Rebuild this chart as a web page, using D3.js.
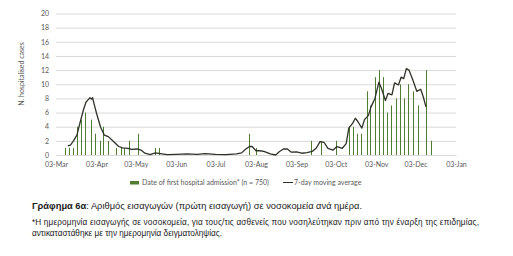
<html>
<head>
<meta charset="utf8">
<title>hospital admissions</title>
<style>
body { margin:0; background-color:white; }
#svg { width:513px; height:256px; }
</style>
<script src="https://d3js.org/d3.v7.min.js"></script>
</head>
<body>
<div id="svg"></div>
<script>

// daily first hospital admissions (bars), only the days that show in the chart
var barDates = ["2020-03-10","2020-03-13","2020-03-16","2020-03-19","2020-03-22","2020-03-25","2020-03-30",
                "2020-04-02","2020-04-06","2020-04-08","2020-04-12","2020-04-18","2020-04-22","2020-04-24","2020-04-28",
                "2020-05-05","2020-05-18","2020-05-21","2020-07-29","2020-08-03","2020-09-14","2020-09-22",
                "2020-10-03","2020-10-13","2020-10-16","2020-10-19","2020-10-22","2020-10-27","2020-10-29",
                "2020-11-02","2020-11-05","2020-11-08","2020-11-11","2020-11-14","2020-11-18","2020-11-21",
                "2020-11-24","2020-11-27","2020-12-01","2020-12-05","2020-12-11","2020-12-15"];
var barValues = [1,1,1,4,5,6,5,
                 3,2,4,2,1,1,1,2,
                 3,1,1,3,1,2,2,
                 2,4,4,3,3,9,7,
                 11,12,11,6,7,8,10,
                 8,10,9,7,12,2];

// 7-day moving average
var maDates = ["2020-03-12","2020-03-14","2020-03-16","2020-03-19","2020-03-21","2020-03-24","2020-03-26",
               "2020-03-28","2020-03-29","2020-03-30","2020-03-31","2020-04-01","2020-04-03","2020-04-06",
               "2020-04-09","2020-04-12","2020-04-16","2020-04-20","2020-04-23","2020-04-27","2020-04-30",
               "2020-05-04","2020-05-07","2020-05-10","2020-05-14","2020-05-18","2020-05-22","2020-05-27",
               "2020-06-03","2020-06-11","2020-06-19","2020-06-25","2020-07-03","2020-07-11","2020-07-19",
               "2020-07-23","2020-07-26","2020-07-29","2020-07-31","2020-08-03","2020-08-06","2020-08-09",
               "2020-08-14","2020-08-18","2020-08-21","2020-08-24","2020-08-27","2020-08-30","2020-09-03",
               "2020-09-07","2020-09-11","2020-09-15","2020-09-18","2020-09-21","2020-09-24","2020-09-27",
               "2020-10-01","2020-10-04","2020-10-08","2020-10-11","2020-10-13","2020-10-16","2020-10-18",
               "2020-10-20","2020-10-23","2020-10-25","2020-10-28","2020-10-30","2020-11-02","2020-11-05",
               "2020-11-07","2020-11-10","2020-11-12","2020-11-15","2020-11-17","2020-11-20","2020-11-22",
               "2020-11-24","2020-11-26","2020-11-28","2020-12-01","2020-12-04","2020-12-07","2020-12-09",
               "2020-12-11"];
var maValues = [1.3,1.4,1.9,2.8,4.3,6.4,7.5,
                7.9,8.1,7.9,8.1,7.3,5.9,4.0,
                2.8,2.6,1.9,1.2,1.0,0.95,0.8,
                0.85,0.7,0.25,0.05,0.3,0.2,0.05,
                0.1,0.15,0.1,0.2,0.1,0.05,0.15,
                0.3,0.8,1.2,1.2,0.6,0.6,0.5,
                0.15,0,0.5,0.85,0.85,0.4,0.45,
                0.25,0.35,0.5,0.95,1.9,1.8,0.95,
                0.7,1.2,0.95,1.6,3.8,4.5,5.2,
                4.7,3.8,5.0,5.6,6.8,8.0,10.3,
                9.4,7.7,8.7,8.5,10.2,9.9,11.0,
                10.8,12.2,12.0,10.6,9.0,9.3,8.2,
                6.8];

var xTicks = ["2020-03-03","2020-04-03","2020-05-03","2020-06-03","2020-07-03","2020-08-03",
              "2020-09-03","2020-10-03","2020-11-03","2020-12-03","2021-01-03"];
var yTicks = [0,2,4,6,8,10,12,14,16,18,20];

var width = 513;
var height = 256;
var plotL = 56, plotR = 456, plotT = 13.5, plotB = 155; // plot area
var green = "#507c31";
var gray = "#595959";
var chartFont = "Lato, 'Noto Sans', sans-serif";
var captionFont = "'Liberation Sans', Arial, sans-serif";

var parse = d3.timeParse("%Y-%m-%d");

var x = d3.scaleTime()
          .domain([parse("2020-03-03"), parse("2021-01-03")])
          .range([plotL, plotR]);
var y = d3.scaleLinear()
          .domain([0, 20])
          .range([plotB, plotT]);

var canvas = d3.select("#svg")
               .append("svg")
               .attr("width", width)
               .attr("height", height);

// grid lines + y labels
var yAxis = canvas.append("g")
    .attr("transform", "translate(" + plotL + ",0)")
    .call(d3.axisLeft(y).tickValues(yTicks).tickSize(-(plotR - plotL)).tickPadding(7));
yAxis.select(".domain").remove();
yAxis.selectAll("line").attr("stroke", "#d9d9d9").attr("stroke-width", 1);
yAxis.selectAll("text")
     .attr("fill", gray)
     .attr("font-family", chartFont)
     .attr("font-size", 7);

// x axis labels
var xAxis = canvas.append("g")
    .attr("transform", "translate(0," + plotB + ")")
    .call(d3.axisBottom(x).tickValues(xTicks.map(parse)).tickFormat(d3.timeFormat("%d-%b")).tickSize(0).tickPadding(7));
xAxis.select(".domain").attr("stroke", "#d9d9d9");
xAxis.selectAll("text")
     .attr("fill", gray)
     .attr("font-family", chartFont)
     .attr("font-size", 7);

// y axis title
canvas.append("text")
      .attr("transform", "translate(24,74) rotate(-90)")
      .attr("text-anchor", "middle")
      .attr("font-family", chartFont)
      .attr("font-size", 7)
      .attr("fill", gray)
      .text("N. hospitalised cases");

// bars
canvas.selectAll(".bar")
      .data(barDates.map(function(d, i) { return { date: parse(d), value: barValues[i] }; }))
      .enter().append("rect")
      .attr("class", "bar")
      .attr("x", function(d) { return Math.round(x(d.date)); })
      .attr("y", function(d) { return y(d.value); })
      .attr("width", 1)
      .attr("height", function(d) { return plotB - y(d.value); })
      .attr("fill", green);

// moving average
var line = d3.line()
             .x(function(d) { return x(d.date); })
             .y(function(d) { return y(d.value); });
canvas.append("path")
      .datum(maDates.map(function(d, i) { return { date: parse(d), value: maValues[i] }; }))
      .attr("d", line)
      .attr("fill", "none")
      .attr("stroke", "#2e3328")
      .attr("stroke-width", 1.3)
      .attr("stroke-linejoin", "round");

// legend
canvas.append("rect")
      .attr("x", 130).attr("y", 181)
      .attr("width", 9).attr("height", 3.5)
      .attr("fill", green);
canvas.append("text")
      .attr("x", 142).attr("y", 185)
      .attr("font-family", chartFont).attr("font-size", 7).attr("fill", gray)
      .text("Date of first hospital admission* (n = 750)");
canvas.append("line")
      .attr("x1", 283).attr("y1", 182.5)
      .attr("x2", 293).attr("y2", 182.5)
      .attr("stroke", "#2e3328").attr("stroke-width", 1);
canvas.append("text")
      .attr("x", 294).attr("y", 185)
      .attr("font-family", chartFont).attr("font-size", 7).attr("fill", gray)
      .text("7-day moving average");

// caption
var cap = canvas.append("text")
      .attr("x", 32).attr("y", 208.5)
      .attr("font-family", captionFont).attr("font-size", 9.3).attr("fill", "#1a1a1a");
cap.append("tspan").attr("font-weight", "bold").text("Γράφημα 6α");
cap.append("tspan").text(": Αριθμός εισαγωγών (πρώτη εισαγωγή) σε νοσοκομεία ανά ημέρα.");

// footnote
canvas.append("text")
      .attr("x", 32).attr("y", 224.5)
      .attr("textLength", 447).attr("lengthAdjust", "spacing")
      .attr("font-family", captionFont).attr("font-size", 8.2).attr("fill", "#1a1a1a")
      .text("*Η ημερομηνία εισαγωγής σε νοσοκομεία, για τους/τις ασθενείς που νοσηλεύτηκαν πριν από την έναρξη της επιδημίας,");
canvas.append("text")
      .attr("x", 32).attr("y", 236.3)
      .attr("font-family", captionFont).attr("font-size", 8.2).attr("fill", "#1a1a1a")
      .text("αντικαταστάθηκε με την ημερομηνία δειγματοληψίας.");

</script>
</body>
</html>
